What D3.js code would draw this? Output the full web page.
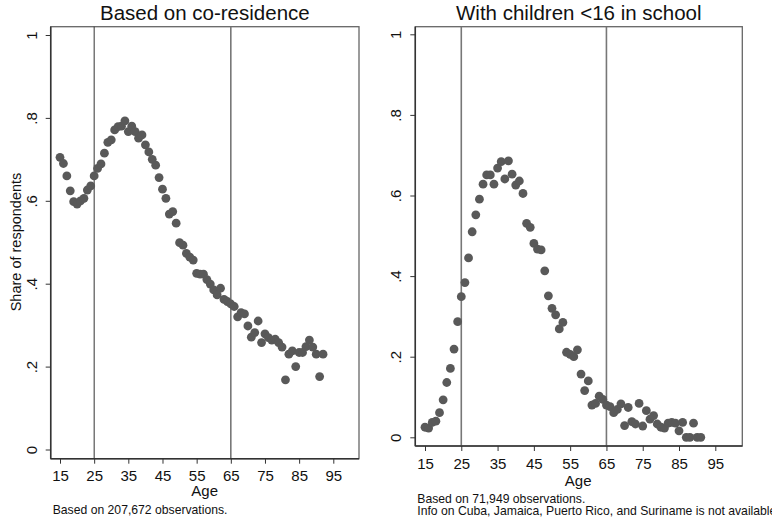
<!DOCTYPE html>
<html>
<head>
<meta charset="utf-8">
<script src="https://cdn.jsdelivr.net/npm/d3@7"></script>
<style>
  body { margin: 0; background: #fff; }
  text { font-family: "Liberation Sans", Arial, sans-serif; fill: #111; }
</style>
</head>
<body>
<div id="chart"></div>
<script>
// ages 15..92, co-residence share
var ageStart = 15;
var coResidence = [
  0.705, 0.690, 0.660, 0.624, 0.598, 0.592, 0.600, 0.606, 0.626, 0.636,
  0.660, 0.678, 0.689, 0.715, 0.741, 0.747, 0.771, 0.779, 0.780, 0.793,
  0.767, 0.780, 0.767, 0.751, 0.759, 0.735, 0.718, 0.700, 0.686, 0.656,
  0.628, 0.606, 0.568, 0.574, 0.546, 0.499, 0.493, 0.473, 0.464, 0.457,
  0.425, 0.423, 0.423, 0.410, 0.399, 0.385, 0.373, 0.389, 0.362, 0.357,
  0.351, 0.345, 0.320, 0.330, 0.327, 0.298, 0.271, 0.282, 0.310, 0.258,
  0.279, 0.270, 0.264, 0.266, 0.258, 0.247, 0.168, 0.230, 0.238, 0.200,
  0.234, 0.234, 0.248, 0.264, 0.247, 0.230, 0.176, 0.230
];
// ages 15..91, children <16 in school
var inSchool = [
  0.025, 0.023, 0.037, 0.040, 0.061, 0.093, 0.136, 0.171, 0.219, 0.287,
  0.349, 0.384, 0.445, 0.510, 0.552, 0.591, 0.628, 0.651, 0.651, 0.628,
  0.668, 0.684, 0.641, 0.686, 0.653, 0.626, 0.636, 0.605, 0.531, 0.521,
  0.481, 0.467, 0.465, 0.413, 0.351, 0.320, 0.304, 0.269, 0.285, 0.211,
  0.206, 0.200, 0.217, 0.157, 0.116, 0.140, 0.080, 0.084, 0.102, 0.094,
  0.080, 0.076, 0.061, 0.069, 0.083, 0.029, 0.074, 0.039, 0.033, 0.084,
  0.028, 0.066, 0.045, 0.054, 0.033, 0.025, 0.023, 0.035, 0.037, 0.035,
  0.016, 0.037, 0.000, 0.000, 0.035, 0.000, 0.000
];
var xTicks = [15, 25, 35, 45, 55, 65, 75, 85, 95];
var yTicks = [0, 0.2, 0.4, 0.6, 0.8, 1];
var yTickLabels = ["0", ".2", ".4", ".6", ".8", "1"];
var refAges = [25, 65];
var titles = ["Based on co-residence", "With children <16 in school"];
var notes = [
  ["Based on 207,672 observations."],
  ["Based on 71,949 observations.", "Info on Cuba, Jamaica, Puerto Rico, and Suriname is not available."]
];

var w = 772, h = 525;

var svg = d3.select("#chart").append("svg")
    .attr("width", w)
    .attr("height", h);

var panels = [
  {data: coResidence, title: titles[0], note: notes[0],
   left: 50.7, right: 359, top: 26.7, bottom: 458.7, ageY: 496, noteY: 514,
   x0: 60, x1: 333.3, y0: 449.5, y1: 35, refColors: ["#333", "#777"], refWidths: [1, 1.6]},
  {data: inSchool, title: titles[1], note: notes[1],
   left: 415.3, right: 742.3, top: 26.7, bottom: 446, ageY: 486, noteY: 503,
   x0: 425, x1: 715.3, y0: 437.3, y1: 34.3, refColors: ["#777", "#777"], refWidths: [1.6, 1.6]}
];

panels.forEach(function (p) {
  var x = d3.scaleLinear().domain([15, 95]).range([p.x0, p.x1]);
  var y = d3.scaleLinear().domain([0, 1]).range([p.y0, p.y1]);
  var g = svg.append("g");
  var cx = (p.left + p.right) / 2;

  g.append("text")
      .attr("x", cx)
      .attr("y", 20)
      .attr("text-anchor", "middle")
      .style("font-size", "20.5px")
      .text(p.title);

  // plot region outline
  g.append("rect")
      .attr("x", p.left)
      .attr("y", p.top)
      .attr("width", p.right - p.left)
      .attr("height", p.bottom - p.top)
      .attr("fill", "none")
      .attr("stroke", "#666")
      .attr("stroke-width", 1.3);

  refAges.forEach(function (a, i) {
    g.append("line")
        .attr("x1", x(a)).attr("x2", x(a))
        .attr("y1", p.top).attr("y2", p.bottom)
        .attr("stroke", p.refColors[i])
        .attr("stroke-width", p.refWidths[i]);
  });

  // axes
  var xAxis = d3.axisBottom(x).tickValues(xTicks).tickSize(5).tickPadding(7);
  var gx = g.append("g")
      .attr("transform", "translate(0," + p.bottom + ")")
      .call(xAxis);
  gx.select(".domain").attr("d", "M" + p.left + ",0H" + p.right).attr("stroke", "#333").attr("stroke-width", 1.5);
  gx.selectAll(".tick line").attr("stroke", "#333");
  gx.selectAll(".tick text")
      .style("font-size", "15px")
      .style("font-family", "Liberation Sans, Arial, sans-serif")
      .attr("fill", "#111");

  var yAxis = d3.axisLeft(y).tickValues(yTicks).tickSize(5).tickPadding(0)
      .tickFormat(function (d, i) { return yTickLabels[i]; });
  var gy = g.append("g")
      .attr("transform", "translate(" + p.left + ",0)")
      .call(yAxis);
  gy.select(".domain").attr("d", "M0," + p.top + "V" + p.bottom).attr("stroke", "#333").attr("stroke-width", 1.5);
  gy.selectAll(".tick line").attr("stroke", "#333");
  gy.selectAll(".tick text")
      .attr("x", -19)
      .attr("dy", "0")
      .attr("text-anchor", "middle")
      .attr("transform", "rotate(-90," + (-19) + ",0)")
      .attr("y", 5)
      .style("font-size", "15px")
      .style("font-family", "Liberation Sans, Arial, sans-serif")
      .attr("fill", "#111");

  g.append("text")
      .attr("x", (x(15) + x(95)) / 2 + 8)
      .attr("y", p.ageY)
      .attr("text-anchor", "middle")
      .style("font-size", "15px")
      .text("Age");

  p.note.forEach(function (t, i) {
    g.append("text")
        .attr("x", p.left + 2)
        .attr("y", p.noteY + i * 12)
        .style("font-size", "12.2px")
        .text(t);
  });

  g.selectAll("circle")
      .data(p.data)
      .enter()
      .append("circle")
      .attr("cx", function (d, i) { return x(ageStart + i); })
      .attr("cy", function (d) { return y(d); })
      .attr("r", 4.4)
      .attr("fill", "#595959");
});

svg.append("text")
    .attr("transform", "translate(21,242) rotate(-90)")
    .attr("text-anchor", "middle")
    .style("font-size", "14.5px")
    .text("Share of respondents");
</script>
</body>
</html>
